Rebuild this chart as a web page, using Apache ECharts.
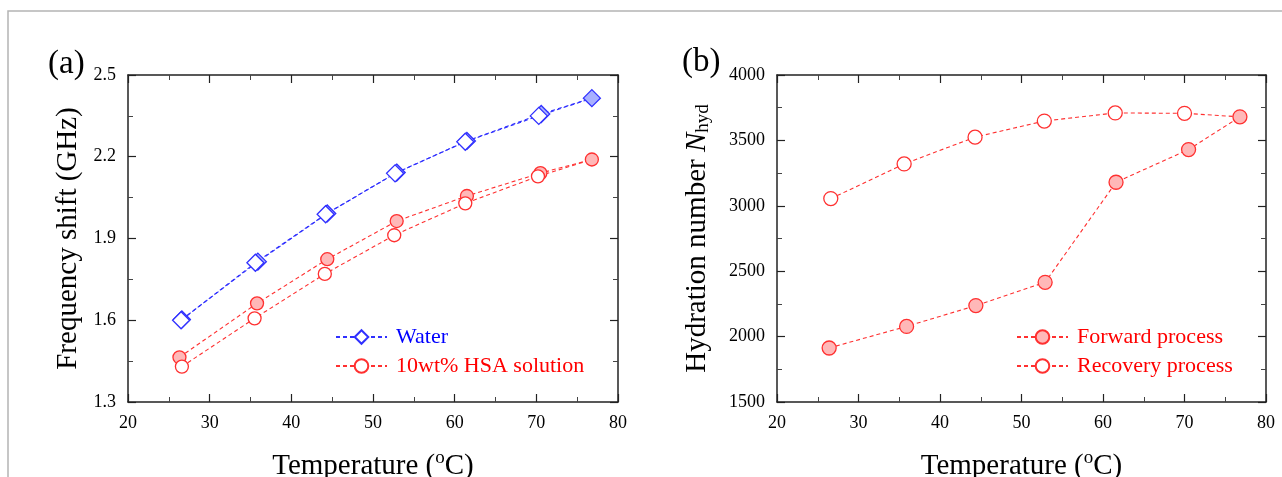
<!DOCTYPE html>
<html>
<head>
<meta charset="utf-8">
<script src="https://cdn.jsdelivr.net/npm/echarts@6/dist/echarts.min.js"></script>
<style>
html,body{margin:0;padding:0;background:#fff;}
#chart{width:1282px;height:477px;}
</style>
</head>
<body>
<div id="chart"></div>
<script>
// ---- Panel (a): frequency shift (GHz) vs temperature ----
const waterFwdT = [26.6, 35.9, 44.4, 52.9, 61.5, 70.6, 76.8];
const waterFwd  = [1.603, 1.815, 1.992, 2.142, 2.258, 2.357, 2.415];
const waterRecT = [26.5, 35.6, 44.2, 52.7, 61.3, 70.3, 76.8];
const waterRec  = [1.600, 1.811, 1.989, 2.139, 2.255, 2.350, 2.415];
const hsaFwdT = [26.3, 35.8, 44.4, 52.9, 61.5, 70.5, 76.8];
const hsaFwd  = [1.464, 1.662, 1.824, 1.964, 2.056, 2.140, 2.190];
const hsaRecT = [26.6, 35.5, 44.1, 52.6, 61.3, 70.2, 76.8];
const hsaRec  = [1.430, 1.607, 1.770, 1.912, 2.029, 2.128, 2.190];

// ---- Panel (b): hydration number vs temperature ----
const fwdT = [26.4, 35.9, 44.4, 52.9, 61.6, 70.5, 76.8];
const fwdN = [1913, 2078, 2237, 2415, 3180, 3430, 3680];
const recT = [26.6, 35.6, 44.3, 52.8, 61.5, 70.0, 76.8];
const recN = [3055, 3320, 3525, 3648, 3710, 3707, 3680];

const legendA = ['Water', '10wt% HSA solution'];
const legendB = ['Forward process', 'Recovery process'];

const SERIF = '"Liberation Serif", "DejaVu Serif", serif';
const BLUE = '#3030ff', BLUE_FILL = '#a8b0ff';
const RED = '#ff3030', RED_FILL = '#ffb8b8';

function pairs(xs, ys, lastNone) {
  return xs.map((x, i) => {
    if (lastNone && i === xs.length - 1) return {value: [x, ys[i]], symbol: 'none'};
    return [x, ys[i]];
  });
}

function xAxes(gi) {
  const base = {
    type: 'value', gridIndex: gi, min: 20, max: 80, interval: 10,
    axisLine: {show: true, lineStyle: {color: '#222', width: 1.5}},
    axisTick: {show: true, inside: true, length: 8, lineStyle: {color: '#222', width: 1.2}},
    minorTick: {show: true, splitNumber: 2, length: 5, lineStyle: {color: '#444', width: 1}},
    splitLine: {show: false}, minorSplitLine: {show: false}
  };
  return [
    Object.assign({}, base, {
      position: 'bottom',
      axisLabel: {margin: 9, fontFamily: SERIF, fontSize: 18, color: '#000', lineHeight: 24},
      name: 'Temperature ({sup|o}C)', nameLocation: 'middle', nameGap: 47,
      nameTextStyle: {
        fontFamily: SERIF, fontSize: 29, color: '#000', lineHeight: 34,
        rich: {sup: {fontFamily: SERIF, fontSize: 19, color: '#000', verticalAlign: 'top', lineHeight: 18}}
      }
    }),
    Object.assign({}, base, {position: 'top', axisLabel: {show: false}})
  ];
}

function yAxes(gi, min, max, interval, fmt, name, nameGap, rich) {
  const base = {
    type: 'value', gridIndex: gi, min: min, max: max, interval: interval,
    axisLine: {show: true, lineStyle: {color: '#222', width: 1.5}},
    axisTick: {show: true, inside: true, length: 8, lineStyle: {color: '#222', width: 1.2}},
    minorTick: {show: true, splitNumber: 2, length: 5, lineStyle: {color: '#444', width: 1}},
    splitLine: {show: false}, minorSplitLine: {show: false}
  };
  return [
    Object.assign({}, base, {
      position: 'left',
      axisLabel: {margin: 12, fontFamily: SERIF, fontSize: 18, color: '#000', formatter: fmt},
      name: name, nameLocation: 'middle', nameGap: nameGap, nameRotate: 90,
      nameTextStyle: Object.assign({fontFamily: SERIF, fontSize: 29, color: '#000', lineHeight: 32}, rich ? {rich: rich} : {})
    }),
    Object.assign({}, base, {position: 'right', axisLabel: {show: false}})
  ];
}

const dash = [4, 3];
function lineSeries(name, xi, yi, data, symbol, size, stroke, fill, lineColor) {
  return {
    name: name, type: 'line', xAxisIndex: xi, yAxisIndex: yi, data: data,
    symbol: symbol, symbolSize: size, showSymbol: true,
    lineStyle: {color: lineColor, width: 1.1, type: dash},
    itemStyle: {color: fill, borderColor: stroke, borderWidth: 1.3},
    emphasis: {disabled: true}, z: 2
  };
}

const chart = echarts.init(document.getElementById('chart'), null, {renderer: 'canvas'});
const xa = xAxes(0).concat(xAxes(1));
const ya = yAxes(0, 1.3, 2.5, 0.3, v => v.toFixed(1), 'Frequency shift (GHz)', 44)
  .concat(yAxes(1, 1500, 4000, 500, v => String(v), 'Hydration number {i|N}{sub|hyd}', 64, {
    i: {fontFamily: SERIF, fontSize: 29, fontStyle: 'italic', color: '#000', lineHeight: 32},
    sub: {fontFamily: SERIF, fontSize: 19, color: '#000', verticalAlign: 'bottom', lineHeight: 15}
  }));

const legendText = {fontFamily: SERIF, fontSize: 22, padding: [0, 0, 0, 4]};
chart.setOption({
  animation: false,
  backgroundColor: '#fff',
  grid: [
    {left: 128, top: 75, width: 490, height: 327, containLabel: false, outerBoundsMode: 'none'},
    {left: 777, top: 75, width: 489, height: 327, containLabel: false, outerBoundsMode: 'none'}
  ],
  xAxis: xa,
  yAxis: ya,
  legend: [
    {
      orient: 'vertical', left: 330, top: 321, itemWidth: 51, itemHeight: 17, itemGap: 7,
      textStyle: legendText, selectedMode: false,
      data: [
        {name: legendA[0], textStyle: {color: '#0000ff'}},
        {name: legendA[1], textStyle: {color: '#ff0000'}}
      ]
    },
    {
      orient: 'vertical', left: 1011, top: 321, itemWidth: 51, itemHeight: 17, itemGap: 7,
      textStyle: legendText, selectedMode: false,
      data: [
        {name: legendB[0], textStyle: {color: '#ff0000'}},
        {name: legendB[1], textStyle: {color: '#ff0000'}}
      ]
    }
  ],
  graphic: [
    {type: 'rect', shape: {x: 8, y: 11, width: 1400, height: 600}, style: {fill: 'none', stroke: '#b4b4b4', lineWidth: 1.5}, silent: true, z: -10},
    {type: 'text', left: 48, top: 48, style: {text: '(a)', font: '33px ' + SERIF, fill: '#000'}},
    {type: 'text', left: 682, top: 46, style: {text: '(b)', font: '33px ' + SERIF, fill: '#000'}}
  ],
  series: [
    lineSeries('Water forward', 0, 0, pairs(waterFwdT, waterFwd), 'diamond', 17, BLUE, BLUE_FILL, BLUE),
    lineSeries(legendA[0], 0, 0, pairs(waterRecT, waterRec, true), 'diamond', 17, BLUE, '#fff', BLUE),
    lineSeries('HSA forward', 0, 0, pairs(hsaFwdT, hsaFwd), 'circle', 13, RED, RED_FILL, RED),
    lineSeries(legendA[1], 0, 0, pairs(hsaRecT, hsaRec, true), 'circle', 13, RED, '#fff', RED),
    lineSeries(legendB[0], 2, 2, pairs(fwdT, fwdN), 'circle', 14, RED, RED_FILL, RED),
    lineSeries(legendB[1], 2, 2, pairs(recT, recN, true), 'circle', 14, RED, '#fff', RED)
  ]
});
</script>
</body>
</html>
